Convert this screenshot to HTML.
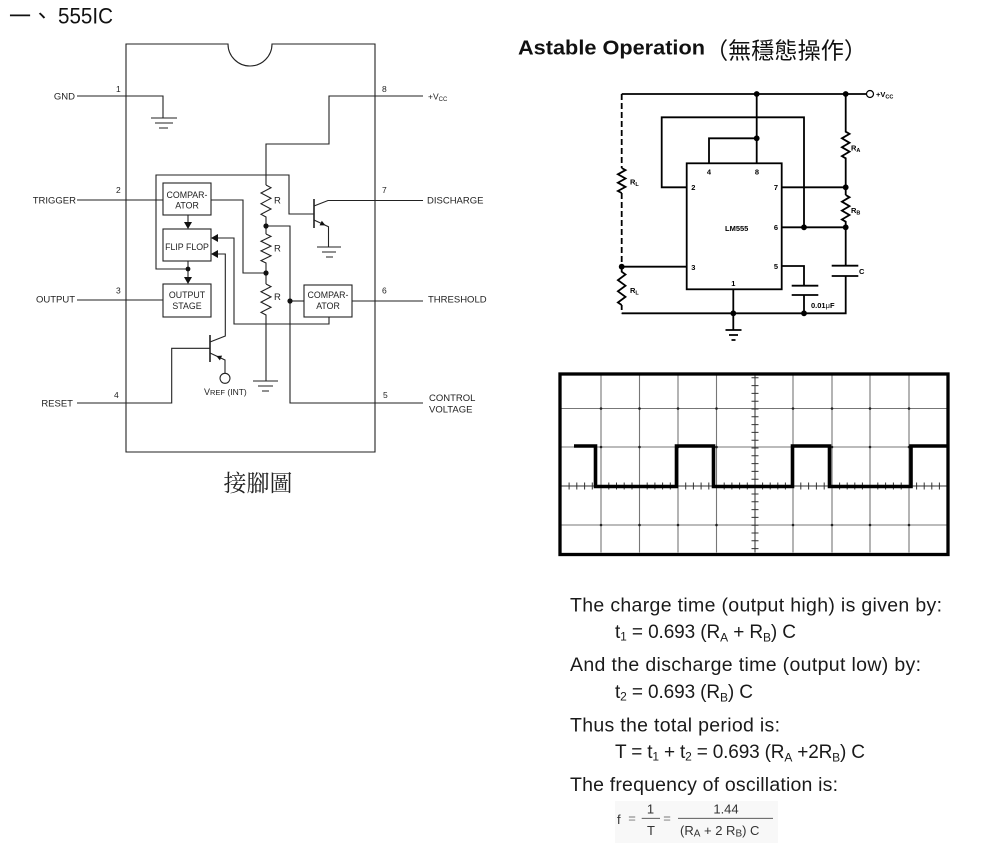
<!DOCTYPE html>
<html><head><meta charset="utf-8"><style>
html,body{margin:0;padding:0;background:#fff;}
svg{display:block;}
</style></head><body>
<svg width="990" height="845" viewBox="0 0 990 845" xmlns="http://www.w3.org/2000/svg" font-family="'Liberation Sans', Arial, sans-serif">
<rect width="990" height="845" fill="#fff"/>

<!-- Title left -->
<text x="9" y="24" font-family="'Noto Sans CJK TC', 'Noto Sans CJK SC', sans-serif" font-size="22" fill="#111">一、</text>
<text x="58" y="23.5" font-size="22" fill="#111" textLength="55" lengthAdjust="spacingAndGlyphs">555IC</text>

<!-- ===== Left IC diagram ===== -->
<g stroke="#222" stroke-width="1.1" fill="none">
  <path d="M126 44 H228 A22 22 0 0 0 272 44 H375 V452 H126 Z"/>
  <path d="M77 96 H163 V118"/>
  <path d="M151 118 H177 M155 123 H173 M159 128 H168"/>
  <path d="M423 96 H329 V144 H266 V185"/>
  <path d="M266 185 L271 187.7 L261 193 L271 198.3 L261 203.7 L271 209 L261 214.3 L266 217 V234"/>
  <path d="M266 234 L271 236.4 L261 241.3 L271 246.1 L261 250.9 L271 255.8 L261 260.6 L266 263 V284"/>
  <path d="M266 284 L271 286.6 L261 291.8 L271 296.9 L261 302.1 L271 307.3 L261 312.4 L266 315 V381"/>
  <path d="M253 381 H278 M258 386 H273 M262 391 H269"/>
  <path d="M266 226 H290 V403 H423"/>
  <path d="M290 301 H304"/>
  <rect x="304" y="285" width="48" height="32"/>
  <path d="M352 301 H423"/>
  <path d="M329 317 V324 H234 V238 H218"/>
  <path d="M266 273 H243 V200 H211"/>
  <rect x="163" y="183" width="48" height="32"/>
  <path d="M77 200 H163"/>
  <rect x="163" y="229" width="48" height="32"/>
  <rect x="163" y="284" width="48" height="33"/>
  <path d="M77 300 H163"/>
  <path d="M188 215 V222"/>
  <path d="M188 261 V277"/>
  <path d="M188 269 H156 V175 H289 V214 H314"/>
  <path d="M314 199 V228" stroke-width="1.6"/>
  <path d="M314 206 L328 200.5 H423"/>
  <path d="M314 220 L328.5 226.7 V246.7"/>
  <path d="M317 247 H341 M322 252 H336 M326 257 H333"/>
  <path d="M210 335 V362" stroke-width="1.6"/>
  <path d="M210 342 L225.3 336 V254 H218"/>
  <path d="M210 353 L225 360 V373.3"/>
  <circle cx="225" cy="378.3" r="5"/>
  <path d="M77 403 H171.7 V348.3 H210"/>
</g>
<g fill="#111">
  <circle cx="266" cy="226" r="2.6"/>
  <circle cx="266" cy="273" r="2.6"/>
  <circle cx="290" cy="301" r="2.6"/>
  <circle cx="188" cy="269" r="2.4"/>
  <polygon points="184,222 192,222 188,229"/>
  <polygon points="184,277 192,277 188,284"/>
  <polygon points="211,238 218,234 218,242"/>
  <polygon points="211,254 218,250 218,258"/>
  <polygon points="325.5,225.4 319.6,225.4 321.8,220.8"/>
  <polygon points="216.3,356 222.1,355.6 219.9,360.4"/>
</g>
<g fill="#222" font-size="9.5">
  <text x="75" y="99.5" text-anchor="end">GND</text>
  <text x="76" y="203.5" text-anchor="end">TRIGGER</text>
  <text x="75" y="302.5" text-anchor="end">OUTPUT</text>
  <text x="73" y="406.5" text-anchor="end">RESET</text>
  <text x="427" y="203.5">DISCHARGE</text>
  <text x="428" y="302.5">THRESHOLD</text>
  <text x="429" y="401">CONTROL</text>
  <text x="429" y="412.5">VOLTAGE</text>
  <text x="428" y="99.5" font-size="8.5">+V<tspan font-size="6" dy="1.5">CC</tspan></text>
  <g font-size="8.5">
    <text x="116" y="92">1</text>
    <text x="382" y="92">8</text>
    <text x="116" y="193">2</text>
    <text x="382" y="193">7</text>
    <text x="116" y="293.5">3</text>
    <text x="382" y="293.5">6</text>
    <text x="114" y="398">4</text>
    <text x="383" y="398">5</text>
  </g>
  <text x="274" y="203.5">R</text>
  <text x="274" y="251.5">R</text>
  <text x="274" y="300">R</text>
  <g font-size="8.8" text-anchor="middle">
    <text x="187" y="198">COMPAR-</text>
    <text x="187" y="208.5">ATOR</text>
    <text x="187" y="250">FLIP FLOP</text>
    <text x="187" y="298">OUTPUT</text>
    <text x="187" y="309">STAGE</text>
    <text x="328" y="298.2">COMPAR-</text>
    <text x="328" y="309">ATOR</text>
  </g>
  <text x="204" y="395" font-size="9">V<tspan font-size="7.5">REF</tspan><tspan font-size="8.5"> (INT)</tspan></text>
</g>
<text x="258" y="491" text-anchor="middle" font-family="'Noto Serif CJK SC', 'Noto Serif CJK TC', serif" font-size="23" fill="#222">接腳圖</text>

<!-- ===== Right title ===== -->
<text x="518" y="54.5" font-size="20" font-weight="bold" fill="#111" textLength="187" lengthAdjust="spacingAndGlyphs">Astable Operation</text>
<text x="705" y="58.5" font-family="'Noto Sans CJK TC', 'Noto Sans CJK SC', sans-serif" font-size="23" fill="#111" textLength="162" lengthAdjust="spacingAndGlyphs">（無穩態操作）</text>

<!-- ===== Right circuit ===== -->
<g stroke="#000" stroke-width="1.8" fill="none">
  <path d="M621.7 94 H866.5"/>
  <circle cx="870" cy="94" r="3.5" stroke-width="1.2"/>
  <path d="M621.7 94 V168" stroke-dasharray="6 3"/>
  <path d="M621.7 168 L625.5 170.1 L617.9 174.3 L625.5 178.5 L617.9 182.7 L625.5 186.9 L617.9 191 L621.7 193"/>
  <path d="M621.7 193 V266.7" stroke-dasharray="6 3"/>
  <path d="M621.7 266.7 V271.7 L625.5 274.5 L617.9 280.1 L625.5 285.7 L617.9 291.3 L625.5 296.9 L617.9 302.5 L621.7 305"/>
  <path d="M621.7 305 V313.3" stroke-dasharray="5 3"/>
  <path d="M621.7 313.3 H845.7 V276"/>
  <path d="M831.7 265.7 H858.3 M831.7 276 H858.3"/>
  <path d="M845.7 227.3 V265.7"/>
  <path d="M845.7 94 V131.7 L849.5 133.9 L841.9 138.3 L849.5 142.8 L841.9 147.2 L849.5 151.6 L841.9 156.1 L845.7 158.3 V195"/>
  <path d="M845.7 195 L849.5 197.2 L841.9 201.7 L849.5 206.1 L841.9 210.6 L849.5 215 L841.9 219.5 L845.7 221.7 V227.3"/>
  <path d="M756.7 94 V163.3"/>
  <path d="M756.7 138.3 H709 V163.3"/>
  <path d="M686.7 187.3 H661.7 V117.3 H804 V227.3"/>
  <rect x="686.7" y="163.3" width="95" height="126"/>
  <path d="M781.7 187.3 H845.7"/>
  <path d="M781.7 227.3 H845.7"/>
  <path d="M621.7 266.7 H686.7"/>
  <path d="M781.7 266 H804 V285.7"/>
  <path d="M791.7 285.7 H818.3 M791.7 295 H818.3"/>
  <path d="M804 295 V313.3"/>
  <path d="M733.3 289.3 V330"/>
  <path d="M725.5 330 H741.5 M729 335 H738 M731.5 340 H735.5"/>
</g>
<g fill="#000">
  <circle cx="756.7" cy="94" r="2.9"/>
  <circle cx="845.7" cy="94" r="2.9"/>
  <circle cx="756.7" cy="138.3" r="2.9"/>
  <circle cx="845.7" cy="187.3" r="2.9"/>
  <circle cx="804" cy="227.3" r="2.9"/>
  <circle cx="845.7" cy="227.3" r="2.9"/>
  <circle cx="621.7" cy="266.7" r="2.9"/>
  <circle cx="733.3" cy="313.3" r="2.9"/>
  <circle cx="804" cy="313.3" r="2.9"/>
</g>
<g fill="#000" font-size="7.5" font-weight="bold">
  <text x="876" y="97">+V<tspan font-size="5.5" dy="1.5">CC</tspan></text>
  <text x="630" y="184.5">R<tspan font-size="5.5" dy="1.5">L</tspan></text>
  <text x="630" y="292.8">R<tspan font-size="5.5" dy="1.5">L</tspan></text>
  <text x="851" y="150.5">R<tspan font-size="5.5" dy="1.5">A</tspan></text>
  <text x="851" y="213">R<tspan font-size="5.5" dy="1.5">B</tspan></text>
  <text x="859" y="274">C</text>
  <text x="811" y="308">0.01<tspan font-weight="normal">μ</tspan>F</text>
  <text x="736.7" y="231" text-anchor="middle">LM555</text>
  <g text-anchor="middle">
    <text x="709" y="174.5">4</text>
    <text x="757" y="174.5">8</text>
    <text x="693.3" y="190">2</text>
    <text x="776" y="190">7</text>
    <text x="776" y="230">6</text>
    <text x="693.3" y="270">3</text>
    <text x="776" y="269">5</text>
    <text x="733.3" y="286">1</text>
  </g>
</g>

<!-- ===== Oscilloscope ===== -->
<g stroke="#777" stroke-width="1.1" fill="none">
  <path d="M601 375.5 V552.5 M639.5 375.5 V552.5 M678 375.5 V552.5 M716.5 375.5 V552.5 M793 375.5 V552.5 M832 375.5 V552.5 M870 375.5 V552.5 M909 375.5 V552.5"/>
  <path d="M560 408.5 H947.5 M560 447 H947.5 M560 525 H947.5"/>
</g>
<g stroke="#333" stroke-width="1" fill="none">
  <path d="M755 375.5 V552.5"/>
  <path d="M560 486 H947.5"/>
  <path d="M751.5 377.8 H758.5 M751.5 385.6 H758.5 M751.5 393.4 H758.5 M751.5 401.2 H758.5 M751.5 409 H758.5 M751.5 416.8 H758.5 M751.5 424.6 H758.5 M751.5 432.4 H758.5 M751.5 440.2 H758.5 M751.5 448 H758.5 M751.5 455.8 H758.5 M751.5 463.6 H758.5 M751.5 471.4 H758.5 M751.5 479.2 H758.5 M751.5 494 H758.5 M751.5 501.8 H758.5 M751.5 509.6 H758.5 M751.5 517.4 H758.5 M751.5 525.2 H758.5 M751.5 533 H758.5 M751.5 540.8 H758.5 M751.5 548.6 H758.5"/>
  <path d="M569.1 482.5 V489.5 M576.8 482.5 V489.5 M584.6 482.5 V489.5 M592.3 482.5 V489.5 M608.8 482.5 V489.5 M616.5 482.5 V489.5 M624.2 482.5 V489.5 M632 482.5 V489.5 M647.2 482.5 V489.5 M654.9 482.5 V489.5 M662.6 482.5 V489.5 M670.3 482.5 V489.5 M685.7 482.5 V489.5 M693.4 482.5 V489.5 M701.1 482.5 V489.5 M708.8 482.5 V489.5 M724.2 482.5 V489.5 M731.9 482.5 V489.5 M739.6 482.5 V489.5 M747.3 482.5 V489.5 M762.6 482.5 V489.5 M770.2 482.5 V489.5 M777.8 482.5 V489.5 M785.4 482.5 V489.5 M800.8 482.5 V489.5 M808.6 482.5 V489.5 M816.4 482.5 V489.5 M824.2 482.5 V489.5 M839.6 482.5 V489.5 M847.2 482.5 V489.5 M854.8 482.5 V489.5 M862.4 482.5 V489.5 M877.8 482.5 V489.5 M885.6 482.5 V489.5 M893.4 482.5 V489.5 M901.2 482.5 V489.5 M916.6 482.5 V489.5 M924.2 482.5 V489.5 M931.8 482.5 V489.5 M939.4 482.5 V489.5"/>
</g>
<g fill="#222">
  <circle cx="601" cy="408.5" r="1.3"/><circle cx="639.5" cy="408.5" r="1.3"/><circle cx="678" cy="408.5" r="1.3"/><circle cx="716.5" cy="408.5" r="1.3"/><circle cx="793" cy="408.5" r="1.3"/><circle cx="832" cy="408.5" r="1.3"/><circle cx="870" cy="408.5" r="1.3"/><circle cx="909" cy="408.5" r="1.3"/>
  <circle cx="601" cy="447" r="1.3"/><circle cx="639.5" cy="447" r="1.3"/><circle cx="678" cy="447" r="1.3"/><circle cx="716.5" cy="447" r="1.3"/><circle cx="793" cy="447" r="1.3"/><circle cx="832" cy="447" r="1.3"/><circle cx="870" cy="447" r="1.3"/><circle cx="909" cy="447" r="1.3"/>
  <circle cx="601" cy="525" r="1.3"/><circle cx="639.5" cy="525" r="1.3"/><circle cx="678" cy="525" r="1.3"/><circle cx="716.5" cy="525" r="1.3"/><circle cx="793" cy="525" r="1.3"/><circle cx="832" cy="525" r="1.3"/><circle cx="870" cy="525" r="1.3"/><circle cx="909" cy="525" r="1.3"/>
</g>
<path d="M574 446 H595.5 V486.5 H676.5 V446 H713.5 V486.5 H792.5 V446 H829.5 V486.5 H911 V446 H947" stroke="#000" stroke-width="3.6" fill="none"/>
<rect x="560" y="374" width="388" height="180.5" stroke="#000" stroke-width="3.3" fill="none"/>

<!-- ===== Formulas ===== -->
<g fill="#1a1a1a" font-size="19.5">
  <text x="570" y="611.5" textLength="372">The charge time (output high) is given by:</text>
  <text x="615" y="638" font-size="19" textLength="181">t<tspan font-size="12" dy="2.5">1</tspan><tspan dy="-2.5"> = 0.693 (R</tspan><tspan font-size="12" dy="3.5">A</tspan><tspan dy="-3.5"> + R</tspan><tspan font-size="12" dy="3.5">B</tspan><tspan dy="-3.5">) C</tspan></text>
  <text x="570" y="671" textLength="351">And the discharge time (output low) by:</text>
  <text x="615" y="698" font-size="19" textLength="138">t<tspan font-size="12" dy="2.5">2</tspan><tspan dy="-2.5"> = 0.693 (R</tspan><tspan font-size="12" dy="3.5">B</tspan><tspan dy="-3.5">) C</tspan></text>
  <text x="570" y="731.5" textLength="210">Thus the total period is:</text>
  <text x="615" y="758" font-size="19" textLength="250">T = t<tspan font-size="12" dy="2.5">1</tspan><tspan dy="-2.5"> + t</tspan><tspan font-size="12" dy="2.5">2</tspan><tspan dy="-2.5"> = 0.693 (R</tspan><tspan font-size="12" dy="3.5">A</tspan><tspan dy="-3.5"> +2R</tspan><tspan font-size="12" dy="3.5">B</tspan><tspan dy="-3.5">) C</tspan></text>
  <text x="570" y="791" textLength="268">The frequency of oscillation is:</text>
</g>
<rect x="615" y="801" width="163" height="42" fill="#f8f8f8"/>
<g fill="#333" font-size="13">
  <text x="617" y="824">f</text>
  <text x="632" y="822.5" text-anchor="middle" fill="#777">=</text>
  <text x="650.5" y="813.3" text-anchor="middle">1</text>
  <path d="M641.7 818.3 H660" stroke="#444" stroke-width="0.9"/>
  <text x="651" y="835" text-anchor="middle">T</text>
  <text x="667" y="822.5" text-anchor="middle" fill="#777">=</text>
  <text x="726" y="813.3" text-anchor="middle">1.44</text>
  <path d="M678 818.3 H773" stroke="#444" stroke-width="0.9"/>
  <text x="680" y="835">(R<tspan font-size="10" dy="1.5">A</tspan><tspan dy="-1.5"> + 2 R</tspan><tspan font-size="10" dy="1.5">B</tspan><tspan dy="-1.5">) C</tspan></text>
</g>
</svg>
</body></html>
